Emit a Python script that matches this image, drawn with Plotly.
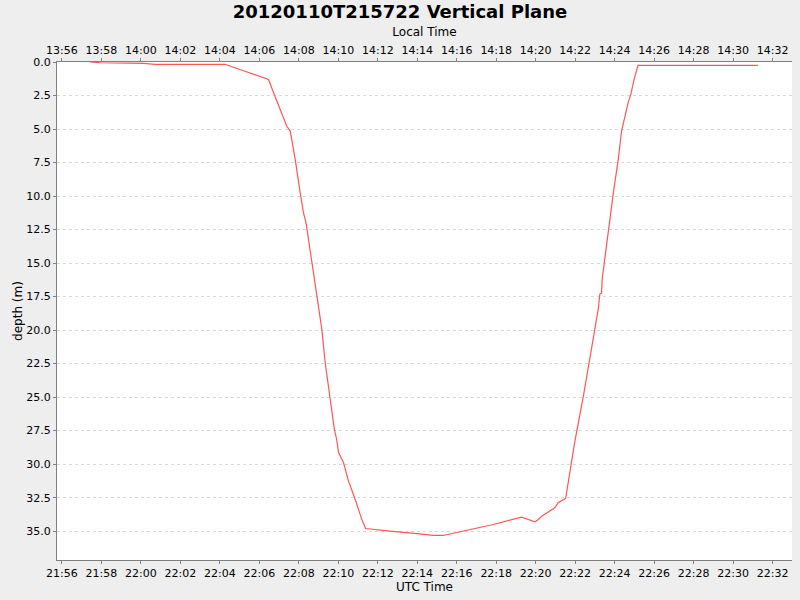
import pandas as pd
import plotly.graph_objects as go

# dive profile (UTC, 2012-01-10)
utc_times = [
    "21:57:26", "21:57:54", "22:00:08", "22:00:43", "22:04:16", "22:05:02",
    "22:05:42", "22:06:28", "22:06:43", "22:07:03", "22:07:23", "22:07:34",
    "22:07:39", "22:07:49", "22:08:04", "22:08:14", "22:08:22", "22:08:34",
    "22:08:44", "22:08:59", "22:09:10", "22:09:20", "22:09:35", "22:09:48",
    "22:09:55", "22:10:01", "22:10:16", "22:10:31", "22:10:51", "22:11:11",
    "22:11:23", "22:11:47", "22:12:37", "22:14:08", "22:14:49", "22:15:19",
    "22:16:31", "22:17:51", "22:19:17", "22:19:58", "22:20:08", "22:20:18",
    "22:20:58", "22:21:08", "22:21:31", "22:21:44", "22:21:59", "22:22:25",
    "22:22:50", "22:23:10", "22:23:15", "22:23:20", "22:23:22", "22:23:35",
    "22:23:56", "22:24:11", "22:24:21", "22:24:41", "22:24:49", "22:24:59",
    "22:25:11", "22:31:16",
]
depths = [
    0.0, 0.05, 0.1, 0.17, 0.17, 0.55,
    0.92, 1.3, 2.28, 3.53, 4.78, 5.15,
    5.77, 7.26, 9.75, 11.24, 12.0, 13.98,
    15.72, 18.2, 19.95, 22.4, 24.9, 27.4,
    28.16, 29.15, 29.9, 31.27, 32.6, 34.1,
    34.8, 34.87, 35.0, 35.2, 35.32, 35.32,
    34.92, 34.5, 33.95, 34.3, 34.13, 33.88,
    33.25, 32.88, 32.55, 30.4, 28.3, 24.9,
    21.2, 18.46, 17.3, 17.25, 16.2, 13.7,
    9.75, 7.26, 5.15, 3.03, 2.41, 1.29,
    0.25, 0.25,
]

day = "2012-01-10 "
utc = pd.to_datetime([day + t for t in utc_times])
local = utc - pd.Timedelta(hours=8)

utc_range = pd.to_datetime([day + "21:55:45", day + "22:32:59"])
local_range = utc_range - pd.Timedelta(hours=8)

font = "DejaVu Sans"
grey = "#808080"

fig = go.Figure()
fig.add_trace(go.Scatter(x=utc, y=depths, mode="lines",
                         line=dict(color="#FF5555", width=1.2),
                         showlegend=False))
# invisible copy on the local time axis so it gets drawn
fig.add_trace(go.Scatter(x=local, y=depths, mode="lines", xaxis="x2",
                         line=dict(width=0), opacity=0,
                         hoverinfo="skip", showlegend=False))

tickfont = dict(family=font, size=11, color="#000000")
titlefont = dict(family=font, size=12, color="#000000")

fig.update_layout(
    width=800, height=600,
    paper_bgcolor="#EEEEEE", plot_bgcolor="#FFFFFF",
    margin=dict(l=57, r=8, t=62, b=40),
    title=dict(text="20120110T215722 Vertical Plane", x=0.5, xanchor="center",
               y=1 - 12 / 600, yanchor="middle",
               font=dict(family=font, size=18, color="#000000", weight="bold")),
    xaxis=dict(
        type="date", range=list(utc_range), automargin=False,
        tick0=day + "21:56:00", dtick=120000, tickformat="%H:%M",
        showgrid=False, zeroline=False,
        showline=True, linecolor=grey, linewidth=1,
        ticks="outside", ticklen=3, tickcolor=grey,
        tickfont=tickfont,
        title=dict(text="UTC Time", standoff=2, font=titlefont),
    ),
    xaxis2=dict(
        type="date", range=list(local_range), overlaying="x", side="top",
        automargin=False,
        tick0="2012-01-10 13:56:00", dtick=120000, tickformat="%H:%M",
        showgrid=False, zeroline=False,
        showline=True, linecolor=grey, linewidth=1,
        ticks="outside", ticklen=3, tickcolor=grey,
        tickfont=tickfont,
        title=dict(text="Local Time", standoff=4, font=titlefont),
    ),
    yaxis=dict(
        range=[37.15, 0], tick0=0, dtick=2.5, tickformat=".1f",
        automargin=False,
        showgrid=True, gridcolor="#D9D9D9", griddash="3px,3px", gridwidth=1,
        zeroline=False,
        showline=True, linecolor=grey, linewidth=1,
        ticks="outside", ticklen=3, tickcolor=grey,
        tickfont=tickfont,
        title=dict(text="depth (m)", standoff=1, font=titlefont),
    ),
)

# drop the browser's default body margin so the 800x600 figure fills the window
fig.write_html("out.html", config={"displayModeBar": False},
               post_script="document.body.style.margin='0';")
